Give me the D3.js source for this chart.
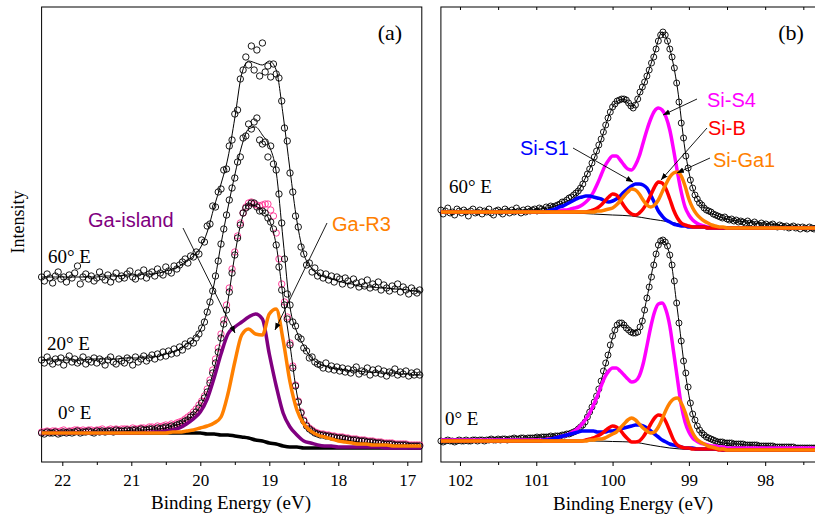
<!DOCTYPE html>
<html>
<head>
<meta charset="utf-8">
<script src="https://cdn.jsdelivr.net/npm/d3@7"></script>
<style>
  body { margin: 0; background: #fff; }
  svg { display: block; }
</style>
</head>
<body>
<div id="chart"></div>
<script>
// Ga 3d (a) and Si 2p (b) photoemission spectra with fitted components

const width = 815;
const height = 521;
const plotTop = 7;
const plotBottom = 462;
const serif = "'Liberation Serif', 'Times New Roman', serif";
const sans = "'Liberation Sans', Arial, sans-serif";

/* ---------- panel (a): Ga 3d ---------- */

// measured points, 22.30 -> 16.82 eV, 0.04 eV step
const energyA = d3.range(138).map(i => 22.3 - 0.04 * i);

const ga60 = [
  185,181,188,184,179,186,190,183,185,180, 187,184,189,196,178,185,188,183,186,181,
  184,190,185,182,187,180,185,189,183,186, 184,188,191,185,183,189,186,192,184,188,
  190,186,193,189,187,195,191,189,196,193, 197,200,203,199,206,205,210,208,
  222,220,236,238,256,255,270,273,292,293,316,322,
  348,352,383,392,405,397,416,392,412,386, 419,390,396,385,398,388,384,361,334,321,
  289,270,246,235,215,208,197,199,190,194,186,
  189,184,188,182,186,180,185,183,178,184, 181,177,183,179,175,180,176,182,174,178,
  175,180,172,177,174,171,176,173,178,170, 175,172,168,174,171,169,172
];

const ga20 = [
  102,99,105,101,98,103,100,104,97,102, 106,100,103,99,101,105,98,102,100,104,
  99,103,101,97,102,105,100,98,103,101, 99,104,102,97,105,100,103,106,101,104,
  107,103,108,105,110,106,111,108,113,109, 115,112,118,116,121,119,124,128,
  134,140,150,160,171,186,201,218,233,247,262,274,
  284,300,305,324,326,338,333,340,344,322, 318,320,305,316,298,292,268,239,203,168,
  157,140,136,125,123,114,111,104,105,100,98,
  97,94,99,93,96,92,95,91,94,90, 93,89,92,95,88,91,90,94,87,92,
  89,93,88,91,86,90,89,93,87,90, 88,91,86,89,87,90,87
];

const ga0 = [
  29,28,30,29,29,30,28,29,30,29, 30,29,30,31,29,30,30,31,30,29,
  31,30,31,30,31,31,30,32,31,31, 31,32,31,32,32,31,33,32,32,33,
  33,32,34,33,34,35,34,36,35,37, 38,39,41,42,45,47,50,54,
  59,64,70,79,89,99,110,124,138,152,170,189,
  207,224,237,249,254,256,259,259,255,251, 251,249,244,240,233,217,195,172,157,143,
  117,94,76,60,49,41,36,33,31,29,28,
  27,27,26,26,25,25,24,24,24,23, 23,22,22,22,21,21,21,20,20,20,
  19,19,19,18,18,18,18,17,17,17, 17,17,16,16,16,16,16
];

// second 0° scan (pink)
const ga0b = [
  30,30,31,30,31,31,30,31,32,30, 31,31,32,32,31,32,31,32,32,31,
  32,32,33,31,32,33,32,33,32,33, 33,33,32,34,33,33,34,34,33,35,
  35,34,36,35,36,37,36,38,37,39, 40,41,43,45,47,50,53,57,
  61,66,73,82,92,103,114,128,142,157,174,193,
  210,226,239,249,255,259,260,258,257,256, 257,258,258,252,246,229,203,178,160,145,
  119,96,77,61,50,42,37,34,32,30,29,
  28,28,27,27,26,26,25,25,25,24, 24,23,23,23,22,22,22,21,21,21,
  20,20,20,19,19,19,19,18,18,18, 18,18,17,17,17,17,17
];

// fit curves, 22.3 -> 16.8 eV, 0.1 eV step
const energyFitA = d3.range(56).map(k => 22.3 - 0.1 * k);

const fitGa60 = [
  185,185,185,185,185,185,185,185,185,186, 186,186,187,187,187,188,188,189,191,193,
  196,201,206,214,230,255,278,304,344,388, 401,399,397,401,392,347,292,241,208,195,
  188,185,183,181,179,178,176,175,175,174, 174,173,173,172,171,170
];
const fitGa20 = [
  102,102,102,102,102,102,102,103,103,103, 103,103,104,104,104,105,105,106,108,110,
  113,118,123,132,150,178,218,254,287,316, 333,335,327,316,290,222,155,130,116,105,
  99,96,94,93,92,91,91,90,90,89, 89,89,88,88,87,87
];
const fitGa0 = [
  29,29,29,30,30,30,30,30,31,31, 31,31,31,32,32,32,33,33,34,36,
  38,42,47,56,70,93,124,161,207,242, 258,256,251,242,217,165,117,68,41,32,
  28,26,24,23,22,21,20,19,19,18, 18,17,17,17,16,16
];
const gaIsland = [
  29,29,29,29,29,29,29,29,29,29, 29,29,29,29,29,29,30,30,31,32,
  34,38,43,50,63,84,108,128,135,140, 145,148,143,108,76,49,35,27,21,19,
  17,16,16,15,15,15,15,15,15,15, 14,14,14,14,14,14
];
const gaR3 = [
  29,29,29,29,29,29,29,29,29,29, 29,29,29,29,29,29,29,29,29,30,
  30,31,32,34,36,39,45,68,100,127, 133,128,127,148,153,122,80,52,38,31,
  27,25,23,21,20,19,18,18,17,17, 17,16,16,16,16,16
];
const gaBackground = [
  29,29,29,29,29,29,29,29,29,29, 29,29,29,29,29,29,29,29,29,29,
  29,29,29,29,28,28,27,27,26,25, 24,22,21,19,18,16,15,15,14,14,
  14,14,14,14,14,14,14,14,14,14, 14,14,14,14,14,14
];

/* ---------- panel (b): Si 2p ---------- */

// measured points, 102.25 -> 97.30 eV, 0.03 eV step
const energyB = d3.range(166).map(i => 102.25 - 0.03 * i);

const si60 = [
  252,248,251,254,249,250,247,253,251,249, 252,250,246,251,253,249,250,252,248,251,
  250,253,249,247,251,252,250,248,253,251, 249,252,250,254,251,249,252,250,253,251,
  252,253,251,254,253,252,255,254,256,255, 256,257,258,260,260,262,264,265,267,269,
  271,274,278,283,288,293,299,305,311,317, 323,330,337,344,350,355,358,361,362,363,
  363,362,359,356,354,357,363,370,375,380, 386,392,399,405,413,421,427,430,427,421,
  413,405,394,379,360,339,324,306,294,282, 274,267,263,259,257,254,252,251,250,248,247,
  246,245,244,245,243,242,243,241,242,240, 241,240,239,241,239,238,240,238,237,239,
  237,238,236,237,238,236,235,237,236,235, 236,234,235,236,234,235,233,235,234,233,
  235,234,233,234,234
];

const si0 = [
  21,20,21,22,21,21,20,21,22,21, 21,22,21,21,22,22,21,22,22,21,
  22,22,23,22,22,23,22,23,23,22, 23,23,24,23,23,24,24,23,24,24,
  24,24,25,24,25,25,25,25,26,25, 26,26,26,27,27,28,28,29,30,31,
  33,35,37,40,45,50,55,60,66,73, 81,91,99,107,117,126,132,137,139,139,
  137,134,132,130,129,129,130,135,141,152, 164,175,185,197,208,217,221,222,220,216,
  207,197,181,159,139,121,101,89,75,59, 48,42,36,32,29,27,25,24,23,22,21,
  20,20,20,19,19,19,19,18,18,18, 18,18,17,17,17,17,17,17,16,16,
  16,16,16,16,16,15,15,15,15,15, 15,15,15,15,14,14,14,14,14,14,
  14,14,14,14,14
];

// envelope fits, 102.25 -> 97.25 eV, 0.1 eV step
const energyFitB = d3.range(51).map(k => 102.25 - 0.1 * k);

const fitSi60 = [
  250,250,250,251,251,251,251,251,252,252, 252,252,252,253,254,256,259,263,271,285,
  302,322,346,360,363,355,367,386,409,430, 413,374,312,274,259,251,247,244,242,241,
  240,239,238,238,237,236,236,235,235,234, 234
];
const fitSi0 = [
  21,21,21,22,22,22,22,23,23,23, 23,24,24,25,25,26,27,28,33,41,
  56,81,109,135,137,130,133,164,202,222, 207,152,91,48,31,24,21,19,18,18,
  17,17,16,16,15,15,15,14,14,14, 14
];

// Shirley-type backgrounds, 0.25 eV step
const energyBgB = d3.range(21).map(k => 102.25 - 0.25 * k);
const bgSi60 = [250,250,250,250,250,250,249.5,249,248,247, 246,243,240,236,234,233.5,233,233,233,233, 233];
const bgSi0 = [21,21,21,21,21,21,21,21,21,20.5, 20,17,14,12.5,12,11.5,11.5,11,11,11, 11];

// fitted components, 101.0 -> 98.4 eV, 0.05 eV step
const energyCompB = d3.range(53).map(j => 101.0 - 0.05 * j);

const siS4_60 = [
  250,250,250,250,251,251,251,252,252,253, 254,255,257,260,264,270,278,287,296,302,
  306,306,302,297,293,292,297,306,319,332, 343,351,354,352,345,332,312,290,270,255,
  247,242,239,237,236,235,235,235,234,234, 234,234,234
];
const siS1_60 = [
  250,250,250,251,252,253,255,256,258,260, 262,264,265,266,266,265,264,263,261,260,
  261,263,266,270,273,276,278,278,277,274, 267,259,251,246,242,240,238,237,236,236,
  235,235,235,235,235,234,234,234,234,234, 234,234,234
];
const siB_60 = [
  250,250,250,250,250,250,250,250,250,250, 250,250,250,250,251,252,254,257,261,265,
  268,267,262,256,251,248,247,249,253,259, 267,275,280,279,273,263,252,244,239,237,
  236,235,235,235,235,234,234,234,234,234, 234,234,234
];
const siGa1_60 = [
  250,250,250,250,250,250,250,250,250,250, 250,250,250,250,250,250,251,251,252,253,
  254,257,261,266,270,273,272,268,262,257, 255,257,262,270,278,285,289,290,286,276,
  263,254,248,244,241,239,237,236,235,235, 234,234,234
];

const siS4_0 = [
  22,22,22,23,23,24,25,26,27,29, 31,34,38,43,49,57,66,76,85,91,
  94,94,91,87,83,80,81,86,98,116, 135,150,158,159,152,136,110,83,57,40,
  30,24,21,19,18,17,16,16,15,15, 14,14,14
];
const siS1_0 = [
  21,21,22,22,23,24,25,26,27,28, 29,30,31,31,31,31,30,30,30,31,
  31,32,33,34,35,36,37,37,36,34, 31,28,25,22,20,18,17,16,15,14,
  14,14,13,13,13,13,13,13,13,12, 12,12,12
];
const siB_0 = [
  21,21,21,21,21,21,21,21,21,21, 21,21,21,22,23,24,26,28,31,34,
  36,35,32,27,23,20,20,21,25,31, 38,44,47,46,40,31,22,17,15,14,
  14,13,13,13,13,13,13,13,12,12, 12,12,12
];
const siGa1_0 = [
  21,21,21,21,21,21,21,21,21,21, 21,21,21,21,22,22,23,23,24,26,
  28,30,34,38,42,44,42,38,34,31, 29,30,35,43,52,59,63,64,59,50,
  38,29,23,20,18,16,15,14,13,13, 12,12,12
];

const tickLabelsA = [22, 21, 20, 19, 18, 17];
const tickLabelsB = [102, 101, 100, 99, 98];

/* ---------- drawing ---------- */

const svg = d3.select("#chart").append("svg")
  .attr("width", width)
  .attr("height", height)
  .attr("viewBox", [0, 0, width, height]);

svg.append("defs").append("marker")
  .attr("id", "arrow")
  .attr("viewBox", "0 0 10 10")
  .attr("refX", 10).attr("refY", 5)
  .attr("markerWidth", 7).attr("markerHeight", 7)
  .attr("markerUnits", "userSpaceOnUse")
  .attr("orient", "auto")
  .append("path").attr("d", "M0,1 L10,5 L0,9 Z").attr("fill", "#000");

const y = d3.scaleLinear().domain([0, 455]).range([plotBottom, plotTop]);
const xA = d3.scaleLinear().domain([22.3, 16.79]).range([41.6, 421.8]);
const xB = d3.scaleLinear().domain([102.25, 97.25]).range([440.9, 822.4]);

const pairs = (xs, ys) => ys.map((v, i) => [xs[i], v]);

function drawFrame(x, left, right, majors, minors, topTicks) {
  const g = svg.append("g");
  const bottom = g.append("g")
    .attr("transform", `translate(0,${plotBottom})`)
    .call(d3.axisBottom(x).tickValues(majors).tickSize(4).tickPadding(8).tickFormat(d3.format("d")));
  bottom.select(".domain").remove();
  bottom.selectAll("text").attr("font-family", serif).attr("font-size", 17).attr("fill", "#000");
  const minor = g.append("g")
    .attr("transform", `translate(0,${plotBottom})`)
    .call(d3.axisBottom(x).tickValues(minors).tickSize(3).tickFormat(""));
  minor.select(".domain").remove();
  if (topTicks) {
    // inward ticks along the top edge
    const top = g.append("g")
      .attr("transform", `translate(0,${plotTop})`)
      .call(d3.axisBottom(x).tickValues(majors.concat(minors)).tickSize(3).tickFormat(""));
    top.select(".domain").remove();
  }
  g.append("rect")
    .attr("x", left).attr("y", plotTop)
    .attr("width", right - left).attr("height", plotBottom - plotTop)
    .attr("fill", "none").attr("stroke", "#000").attr("stroke-width", 1);
  return g;
}

function drawPoints(x, xs, ys, color, r) {
  svg.append("g")
    .selectAll("circle")
    .data(pairs(xs, ys))
    .join("circle")
    .attr("cx", d => x(d[0]))
    .attr("cy", d => y(d[1]))
    .attr("r", r)
    .attr("fill", "none")
    .attr("stroke", color)
    .attr("stroke-width", 0.9);
}

function drawCurve(x, pts, color, w) {
  const line = d3.line()
    .x(d => x(d[0]))
    .y(d => y(d[1]))
    .curve(d3.curveMonotoneX);
  svg.append("path")
    .attr("d", line(pts))
    .attr("fill", "none")
    .attr("stroke", color)
    .attr("stroke-width", w)
    .attr("stroke-linejoin", "round");
}

function label(txt, x0, y0, color, font, size, anchor) {
  svg.append("text")
    .attr("x", x0).attr("y", y0)
    .attr("fill", color)
    .attr("font-family", font)
    .attr("font-size", size)
    .attr("text-anchor", anchor || "start")
    .text(txt);
}

function arrow(x1, y1, x2, y2) {
  svg.append("line")
    .attr("x1", x1).attr("y1", y1).attr("x2", x2).attr("y2", y2)
    .attr("stroke", "#000").attr("stroke-width", 0.9)
    .attr("marker-end", "url(#arrow)");
}

// panel (a)
drawFrame(xA, 41.6, 421.8, tickLabelsA, [21.5, 20.5, 19.5, 18.5, 17.5], false);

drawPoints(xA, energyA, ga0b, "#ff2f92", 3.2);
drawPoints(xA, energyA, ga60, "#000", 3.2);
drawPoints(xA, energyA, ga20, "#000", 3.2);
drawPoints(xA, energyA, ga0, "#000", 3.2);

drawCurve(xA, pairs(energyFitA, fitGa60), "#000", 1);
drawCurve(xA, pairs(energyFitA, fitGa20), "#000", 1);
drawCurve(xA, pairs(energyFitA, fitGa0), "#000", 1);

drawCurve(xA, pairs(energyFitA, gaBackground), "#000", 3.5);
drawCurve(xA, pairs(energyFitA, gaIsland), "#800080", 3.5);
drawCurve(xA, pairs(energyFitA, gaR3), "#ff8000", 3.5);

label("(a)", 390, 40, "#000", serif, 22, "middle");
label("60° E", 48, 263, "#000", serif, 19);
label("20° E", 47, 350, "#000", serif, 19);
label("0° E", 58, 419, "#000", serif, 19);
label("Ga-island", 88, 227, "#800080", sans, 20);
label("Ga-R3", 332, 231, "#ff8000", sans, 20);
arrow(183, 228, 235, 333);
arrow(327, 223, 275, 330);

svg.append("text")
  .attr("transform", "translate(24,222) rotate(-90)")
  .attr("text-anchor", "middle")
  .attr("font-family", serif)
  .attr("font-size", 18)
  .text("Intensity");
label("Binding Energy (eV)", 231, 509, "#000", serif, 19, "middle");

// panel (b)
drawFrame(xB, 440.9, 830, tickLabelsB, [101.5, 100.5, 99.5, 98.5, 97.5], true);

drawPoints(xB, energyB, si60, "#000", 3);
drawPoints(xB, energyB, si0, "#000", 3);

drawCurve(xB, pairs(energyFitB, fitSi60), "#000", 1);
drawCurve(xB, pairs(energyFitB, fitSi0), "#000", 1);
drawCurve(xB, pairs(energyBgB, bgSi60), "#000", 1);
drawCurve(xB, pairs(energyBgB, bgSi0), "#000", 1);

// components run flat out to both ends of the energy window
function component(vals) {
  const pts = pairs(energyCompB, vals);
  return [[102.25, vals[0]]].concat(pts, [[97.25, vals[vals.length - 1]]]);
}
[[siS4_60, "#ff00ff"], [siS1_60, "#0000ff"], [siB_60, "#ff0000"], [siGa1_60, "#ff8000"],
 [siS4_0, "#ff00ff"], [siS1_0, "#0000ff"], [siB_0, "#ff0000"], [siGa1_0, "#ff8000"]]
  .forEach(([vals, c]) => drawCurve(xB, component(vals), c, 3.5));

label("(b)", 791, 40, "#000", serif, 22, "middle");
label("60° E", 449, 193, "#000", serif, 19);
label("0° E", 445, 425, "#000", serif, 19);
label("Si-S4", 707, 107, "#ff00ff", sans, 20);
label("Si-B", 708, 135, "#ff0000", sans, 20);
label("Si-Ga1", 713, 167, "#ff8000", sans, 20);
label("Si-S1", 520, 155, "#0000ff", sans, 20);
arrow(697, 99, 663, 115);
arrow(707, 128, 661, 180);
arrow(710, 158, 677, 173);
arrow(573, 148, 633, 182);

label("Binding Energy (eV)", 633, 510, "#000", serif, 19, "middle");
</script>
</body>
</html>
